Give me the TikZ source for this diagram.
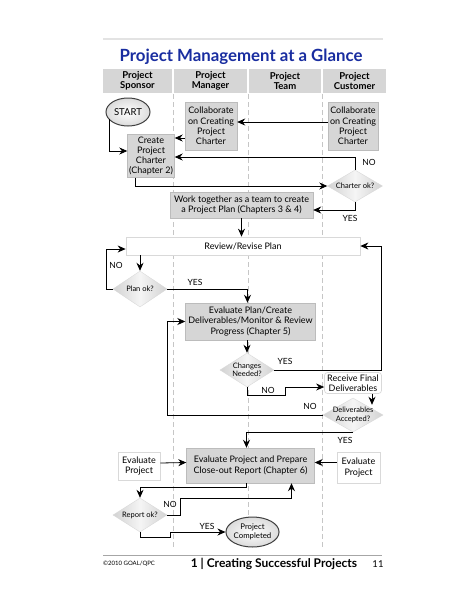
\documentclass[tikz,border=0pt]{standalone}
\usepackage{fontspec}
\setmainfont{Lato}
\usetikzlibrary{shapes.geometric,arrows.meta,calc}
\definecolor{ttl}{RGB}{25,45,160}
\definecolor{boxg}{RGB}{214,214,214}
\definecolor{boxe}{RGB}{188,188,188}
\definecolor{hdr}{RGB}{214,214,214}
\begin{document}
\begin{tikzpicture}[x=1pt,y=-1pt,
  arr/.style={-{Stealth[length=8pt,width=7pt]}, line width=0.8pt, black},
  gbox/.style={rectangle, fill=boxg, draw=boxe, line width=0.4pt, align=center, inner sep=0pt, font=\fontsize{9}{10.3}\selectfont},
  wbox/.style={rectangle, fill=white, draw=gray!30, line width=0.7pt, align=center, inner sep=0pt, font=\fontsize{9}{10.3}\selectfont},
  dia/.style={diamond, left color=gray!35, right color=gray!35, middle color=gray!8, draw=gray!30, inner sep=0pt},
  dtext/.style={font=\fontsize{7.5}{8.5}\selectfont, align=center, inner sep=0pt},
  oval/.style={ellipse, draw=black!75, line width=1pt, inner color=white, outer color=gray!28, inner sep=0pt, align=center},
  lbl/.style={font=\fontsize{8.5}{9}\selectfont, inner sep=0pt},
  hcell/.style={rectangle, fill=hdr, inner sep=0pt, align=center, font=\bfseries\fontsize{9.5}{9.8}\selectfont},
  col/.style={gray!45, dash pattern=on 5pt off 3pt, line width=0.6pt}]
\useasboundingbox (0,0) rectangle (463,600);
\fill[white] (0,0) rectangle (463,600);
\draw[gray!22, line width=2pt] (103,39) -- (383,39);
\node[font=\bfseries\fontsize{16.8}{17}\selectfont, text=ttl] (title) at (241,57) {Project Management at a Glance};
% header
\node[hcell, minimum width=69pt, minimum height=24pt] (hs) at (137.5,81) {Project\\Sponsor};
\node[hcell, minimum width=73pt, minimum height=24pt] (hm) at (210.5,81) {Project\\Manager};
\node[hcell, minimum width=72pt, minimum height=24pt] (ht) at (285,81) {Project\\Team};
\node[hcell, minimum width=63pt, minimum height=24pt] (hc) at (354.5,81) {Project\\Customer};
% column lines
\draw[col] (173,94) -- (173,548);
\draw[col] (248,94) -- (248,548);
\draw[col] (322,94) -- (322,548);
% nodes
\node[oval, minimum width=44pt, minimum height=28pt, font=\fontsize{9.5}{10}\selectfont] (start) at (128,112) {START};
\node[gbox, minimum width=52pt, minimum height=48pt] (collabM) at (211,126) {Collaborate\\on Creating\\Project\\Charter};
\node[gbox, minimum width=50pt, minimum height=48pt] (collabC) at (353,126) {Collaborate\\on Creating\\Project\\Charter};
\node[gbox, minimum width=47pt, minimum height=43pt] (create) at (151,156) {Create\\Project\\Charter\\(Chapter 2)};
\node[dia, minimum width=55pt, minimum height=32pt, label={[dtext]center:Charter ok?}] (charter) at (355,186) {};
\node[gbox, minimum width=143pt, minimum height=26pt] (work) at (241.5,205) {Work together as a team to create\\a Project Plan (Chapters 3 \& 4)};
\node[wbox, minimum width=234pt, minimum height=18pt] (review) at (243,246) {Review/Revise Plan};
\node[dia, minimum width=54pt, minimum height=36pt, label={[dtext]center:Plan ok?}] (planok) at (140,289) {};
\node[gbox, minimum width=130pt, minimum height=37pt] (evalplan) at (250.5,321.5) {Evaluate Plan/Create\\Deliverables/Monitor \& Review\\Progress (Chapter 5)};
\node[dia, minimum width=54pt, minimum height=34pt, label={[dtext]center:Changes\\Needed?}] (changes) at (247,370) {};
\node[wbox, minimum width=57pt, minimum height=21pt, rounded corners=3pt] (receive) at (353,383) {Receive Final\\Deliverables};
\node[dia, minimum width=60pt, minimum height=34pt, label={[dtext]center:Deliverables\\Accepted?}] (deliv) at (353,415) {};
\node[gbox, minimum width=128pt, minimum height=35pt] (closeout) at (250.5,465.5) {Evaluate Project and Prepare\\Close-out Report (Chapter 6)};
\node[wbox, minimum width=42pt, minimum height=28pt] (evalL) at (139,466) {Evaluate\\Project};
\node[wbox, minimum width=43pt, minimum height=31pt] (evalR) at (358.5,467.5) {Evaluate\\Project};
\node[dia, minimum width=54pt, minimum height=34pt, label={[dtext]center:Report ok?}] (reportok) at (140,515) {};
\node[oval, minimum width=49pt, minimum height=30pt, font=\fontsize{7.8}{8.6}\selectfont] (completed) at (252.5,532) {Project\\Completed};
% connectors
\draw[arr] ($(collabC.west)+(0,-4)$) -- ($(collabM.east)+(0,-4)$);
\draw[arr] ($(collabM.west)+(0,12)$) -- ($(create.east)+(0,-18)$);
\draw[arr] ($(start.center)+(-19,7)$) |- ($(create.west)+(0,-5)$);
\draw[arr] ($(create.south)+(-16,0)$) |- (charter.west);
\draw[arr] (charter.north) |- ($(create.east)+(0,1)$);
\node[lbl] (no1) at (369,162) {NO};
\draw[arr] (charter.south) |- ($(work.east)+(0,5)$);
\node[lbl] (yes1) at (350,218) {YES};
\draw[arr] (work.south) -- (work.south |- review.north);
\draw[arr] (planok.north |- review.south) -- (planok.north);
\draw[arr] (planok.west) -| ($(review.west)+(-19,3)$) -- ($(review.west)+(0,3)$);
\node[lbl] (no2) at (116,265) {NO};
\draw[arr] (planok.east) -| ($(evalplan.north)+(-3,0)$);
\node[lbl] (yes2) at (195,282) {YES};
\draw[arr] (changes.north |- evalplan.south) -- (changes.north);
\draw[arr] (changes.east) -| ($(review.east)+(21,0)$) -- (review.east);
\node[lbl] (yes3) at (285,361) {YES};
\draw[arr] (changes.south) |- ($(changes.south)+(38,8)$) |- ($(receive.west)+(0,4)$);
\node[lbl] (no3) at (268,390) {NO};
\draw[arr] ($(receive.south)+(19,0)$) -- ($(deliv.north)+(19,7)$);
\draw[arr] (deliv.west) -| ($(evalplan.west)+(-18,0)$) -- (evalplan.west);
\node[lbl] (no4) at (310,406) {NO};
\draw[arr] (deliv.south) -| ($(closeout.north)+(-4,0)$);
\node[lbl] (yes4) at (345,440) {YES};
\draw[arr] ($(evalL.east)+(0,-3)$) -- ($(closeout.west)+(0,-3)$);
\draw[arr] ($(evalR.west)+(0,-5)$) -- ($(closeout.east)+(0,-3)$);
\draw[arr] ($(closeout.south)+(-4,0)$) |- ($(reportok.north)+(0,-10)$) -- (reportok.north);
\draw[arr] (reportok.east) -- ($(reportok.east)+(13,0)$) |- ($(closeout.south)+(41,15)$) -- ($(closeout.south)+(41,0)$);
\node[lbl] (no5) at (170,504) {NO};
\draw[arr] (reportok.south) |- ($(reportok.south)+(30,5)$) |- (completed.west);
\node[lbl] (yes5) at (207,526) {YES};
% footer
\draw[gray!70, line width=0.8pt] (103,555) -- (382,555);
\node[font=\fontsize{6}{7}\selectfont, anchor=west, inner sep=0pt] (copy) at (103,564) {©2010 GOAL/QPC};
\node[font=\bfseries\fontsize{12}{12}\selectfont, inner sep=0pt] (ft) at (274,564) {1 | Creating Successful Projects};
\node[font=\fontsize{9.5}{10}\selectfont, inner sep=0pt] (pg) at (378,564) {11};
\end{tikzpicture}
\end{document}
